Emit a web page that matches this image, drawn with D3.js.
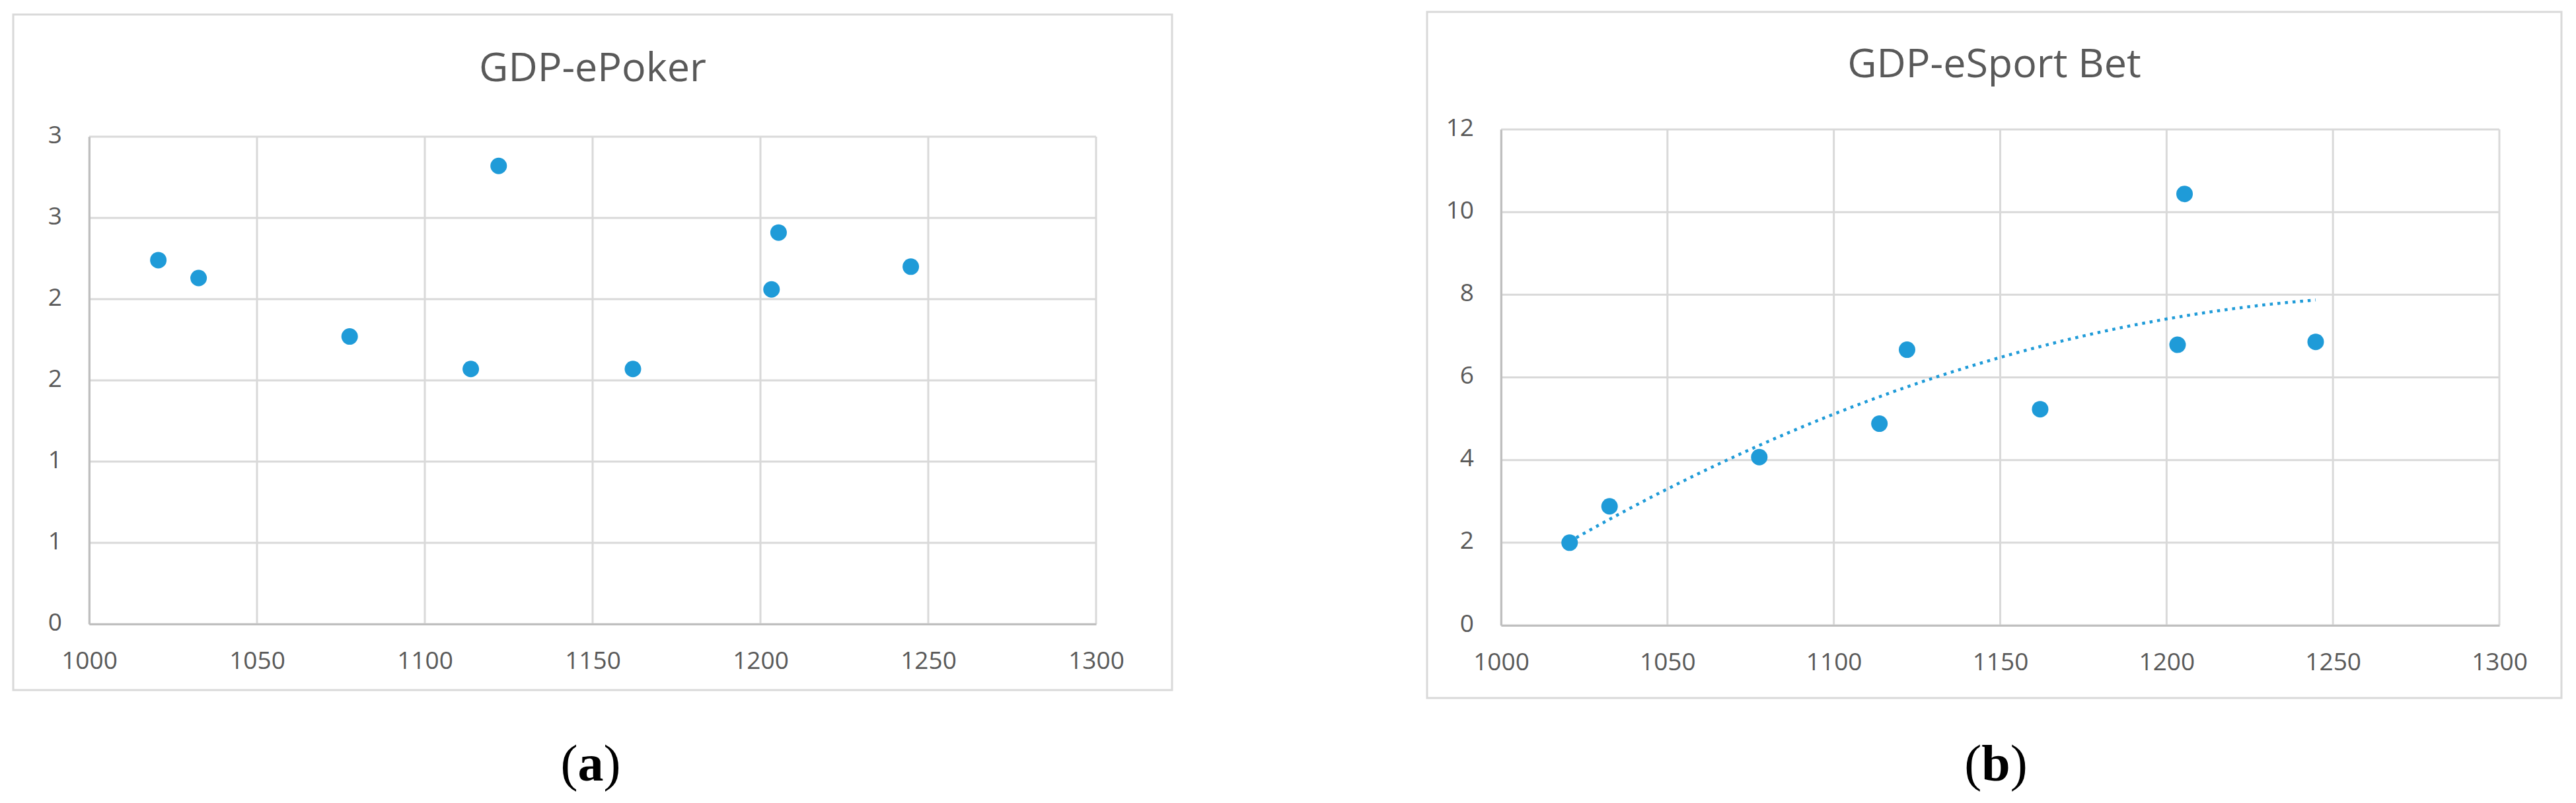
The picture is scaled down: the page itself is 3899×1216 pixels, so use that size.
<!DOCTYPE html>
<html>
<head>
<meta charset="utf-8">
<script src="https://cdn.jsdelivr.net/npm/d3@7"></script>
<style>
  html, body { margin: 0; padding: 0; background: #fff; }
  svg { display: block; }
</style>
</head>
<body>
<svg id="chart" width="3899" height="1216"></svg>
<script>
// ---------------- DATA ----------------
const gdp       = [1020.6, 1032.6, 1077.6, 1113.7, 1122.0, 1162.0, 1203.3, 1205.4, 1244.8];
const ePoker    = [2.24, 2.13, 1.77, 1.57, 2.82, 1.57, 2.06, 2.41, 2.20];
const eSportBet = [2.00, 2.88, 4.07, 4.88, 6.67, 5.23, 6.79, 10.44, 6.86];

const xTicks       = [1000, 1050, 1100, 1150, 1200, 1250, 1300];
const xTickLabels  = ["1000", "1050", "1100", "1150", "1200", "1250", "1300"];
const yTicksA      = [0, 0.5, 1, 1.5, 2, 2.5, 3];
const yTickLabelsA = ["0", "1", "1", "2", "2", "3", "3"];
const yTicksB      = [0, 2, 4, 6, 8, 10, 12];
const yTickLabelsB = ["0", "2", "4", "6", "8", "10", "12"];

const titles = ["GDP-ePoker", "GDP-eSport Bet"];
const panelLetters = ["a", "b"];

// ---------------- LAYOUT ----------------
const panels = [
  { box: [20, 22, 1774, 1045], plot: [135, 207, 1659, 945], titleY: 123, letterX: 894,
    ys: ePoker, yTicks: yTicksA, yLabels: yTickLabelsA, trend: false },
  { box: [2160, 18, 3877, 1057], plot: [2272, 196, 3783, 947], titleY: 117, letterX: 3021,
    ys: eSportBet, yTicks: yTicksB, yLabels: yTickLabelsB, trend: true }
];

const TEXT = "#595959";
const GRID = "#d9d9d9";
const AXIS = "#bfbfbf";
const DOT  = "#1f9bd8";
const FONT = "'Open Sans', 'Noto Sans', sans-serif";

const svg = d3.select("#chart");

// quadratic least-squares fit (Excel polynomial trendline, order 2)
function polyFit2(xs, ys) {
  const x0 = d3.mean(xs);
  let S = [[0,0,0],[0,0,0],[0,0,0]], T = [0,0,0];
  xs.forEach((xv, i) => {
    const u = xv - x0, p = [1, u, u*u];
    for (let r = 0; r < 3; r++) {
      T[r] += p[r] * ys[i];
      for (let c = 0; c < 3; c++) S[r][c] += p[r] * p[c];
    }
  });
  // Gaussian elimination
  const A = S.map((row, r) => row.concat([T[r]]));
  for (let i = 0; i < 3; i++) {
    let m = i;
    for (let k = i + 1; k < 3; k++) if (Math.abs(A[k][i]) > Math.abs(A[m][i])) m = k;
    [A[i], A[m]] = [A[m], A[i]];
    for (let k = i + 1; k < 3; k++) {
      const f = A[k][i] / A[i][i];
      for (let j = i; j < 4; j++) A[k][j] -= f * A[i][j];
    }
  }
  const coef = [0,0,0];
  for (let i = 2; i >= 0; i--) {
    let s = A[i][3];
    for (let j = i + 1; j < 3; j++) s -= A[i][j] * coef[j];
    coef[i] = s / A[i][i];
  }
  return xv => { const u = xv - x0; return coef[0] + coef[1]*u + coef[2]*u*u; };
}

panels.forEach((p, idx) => {
  const [bx0, by0, bx1, by1] = p.box;
  const [px0, py0, px1, py1] = p.plot;
  const g = svg.append("g");

  // outer chart border
  g.append("rect")
    .attr("x", bx0).attr("y", by0)
    .attr("width", bx1 - bx0).attr("height", by1 - by0)
    .attr("fill", "#fff").attr("stroke", GRID).attr("stroke-width", 3);

  const x = d3.scaleLinear().domain([xTicks[0], xTicks[xTicks.length - 1]]).range([px0, px1]);
  const y = d3.scaleLinear().domain([p.yTicks[0], p.yTicks[p.yTicks.length - 1]]).range([py1, py0]);

  // gridlines
  g.append("g").selectAll("line.h").data(p.yTicks).join("line")
    .attr("x1", px0).attr("x2", px1)
    .attr("y1", d => y(d)).attr("y2", d => y(d))
    .attr("stroke", GRID).attr("stroke-width", 3);
  g.append("g").selectAll("line.v").data(xTicks).join("line")
    .attr("y1", py0).attr("y2", py1)
    .attr("x1", d => x(d)).attr("x2", d => x(d))
    .attr("stroke", GRID).attr("stroke-width", 3);

  // axes
  const xAxis = d3.axisBottom(x).tickValues(xTicks).tickSize(0).tickPadding(0)
    .tickFormat((d, i) => xTickLabels[i]);
  const gx = g.append("g").attr("transform", `translate(0,${py1})`).call(xAxis);
  gx.select(".domain").attr("stroke", AXIS).attr("stroke-width", 3);
  gx.selectAll("text")
    .attr("y", 68).attr("dy", null)
    .attr("fill", TEXT).attr("font-family", FONT).attr("font-size", 37);

  const yAxis = d3.axisLeft(y).tickValues(p.yTicks).tickSize(0).tickPadding(0)
    .tickFormat((d, i) => p.yLabels[i]);
  const gy = g.append("g").attr("transform", `translate(${px0},0)`).call(yAxis);
  gy.select(".domain").attr("stroke", AXIS).attr("stroke-width", 3);
  gy.selectAll("text")
    .attr("x", -41).attr("dy", null).attr("y", 9)
    .attr("fill", TEXT).attr("font-family", FONT).attr("font-size", 37);

  // trendline
  if (p.trend) {
    const f = polyFit2(gdp, p.ys);
    const [xmin, xmax] = d3.extent(gdp);
    const pts = d3.range(0, 101).map(k => xmin + (xmax - xmin) * k / 100);
    g.append("path")
      .datum(pts)
      .attr("d", d3.line().x(d => x(d)).y(d => y(f(d))))
      .attr("fill", "none").attr("stroke", DOT)
      .attr("stroke-width", 4.5).attr("stroke-dasharray", "4.5,7");
  }

  // points
  g.append("g").selectAll("circle").data(gdp).join("circle")
    .attr("cx", d => x(d)).attr("cy", (d, i) => y(p.ys[i]))
    .attr("r", 12.5).attr("fill", DOT);

  // title
  g.append("text")
    .attr("x", (bx0 + bx1) / 2).attr("y", p.titleY)
    .attr("text-anchor", "middle")
    .attr("fill", TEXT).attr("font-family", FONT).attr("font-size", 61)
    .text(titles[idx]);

  // panel letter
  const t = svg.append("text")
    .attr("x", p.letterX).attr("y", 1182)
    .attr("text-anchor", "middle")
    .attr("fill", "#000").attr("font-family", "'Liberation Serif', 'Times New Roman', serif")
    .attr("font-size", 78);
  t.append("tspan").text("(");
  t.append("tspan").attr("font-weight", "bold").text(panelLetters[idx]);
  t.append("tspan").text(")");
});
</script>
</body>
</html>
